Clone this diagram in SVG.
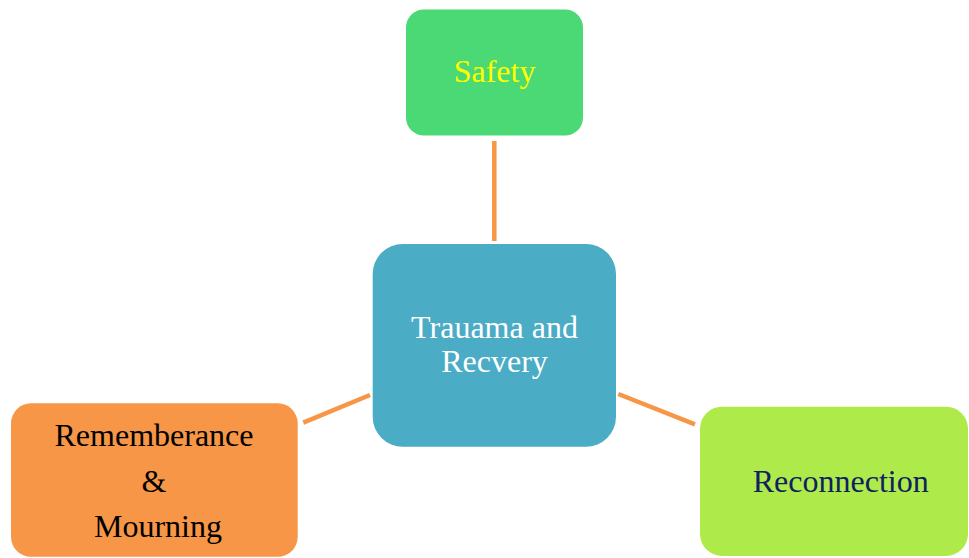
<svg xmlns="http://www.w3.org/2000/svg" width="969" height="558" viewBox="0 0 969 558">
<style>
text{font-family:"Liberation Serif","Times New Roman",serif;font-size:32px;text-anchor:middle}
.conn{stroke:#f79646;stroke-width:4.5;fill:none}
</style>
<rect width="969" height="558" fill="#ffffff"/>
<g id="connectors">
<line class="conn" x1="494.3" y1="141" x2="494.3" y2="241"/>
<line class="conn" x1="303.3" y1="422.7" x2="370" y2="395"/>
<line class="conn" x1="618.3" y1="394" x2="695" y2="424.3"/>
</g>
<g id="safety">
<rect x="406" y="9.5" width="177" height="126" rx="18" fill="#4ad975"/>
<text x="494.5" y="82" fill="#ffff00">Safety</text>
</g>
<g id="center">
<rect x="372.7" y="244" width="243.3" height="202.7" rx="30" fill="#4bacc6"/>
<text x="494.5" y="338.3" fill="#ffffff">Trauama and</text>
<text x="494.5" y="371.5" fill="#ffffff">Recvery</text>
</g>
<g id="remembrance">
<rect x="11" y="403.3" width="286.7" height="153.5" rx="20" fill="#f79646"/>
<text x="154" y="445.7" fill="#000000">Rememberance</text>
<text x="154" y="491.7" fill="#000000">&amp;</text>
<text x="158" y="537.3" fill="#000000">Mourning</text>
</g>
<g id="reconnection">
<rect x="700" y="406.7" width="268" height="149.3" rx="22" fill="#aeea4a"/>
<text x="840.7" y="491.7" fill="#0f2160">Reconnection</text>
</g>
</svg>
